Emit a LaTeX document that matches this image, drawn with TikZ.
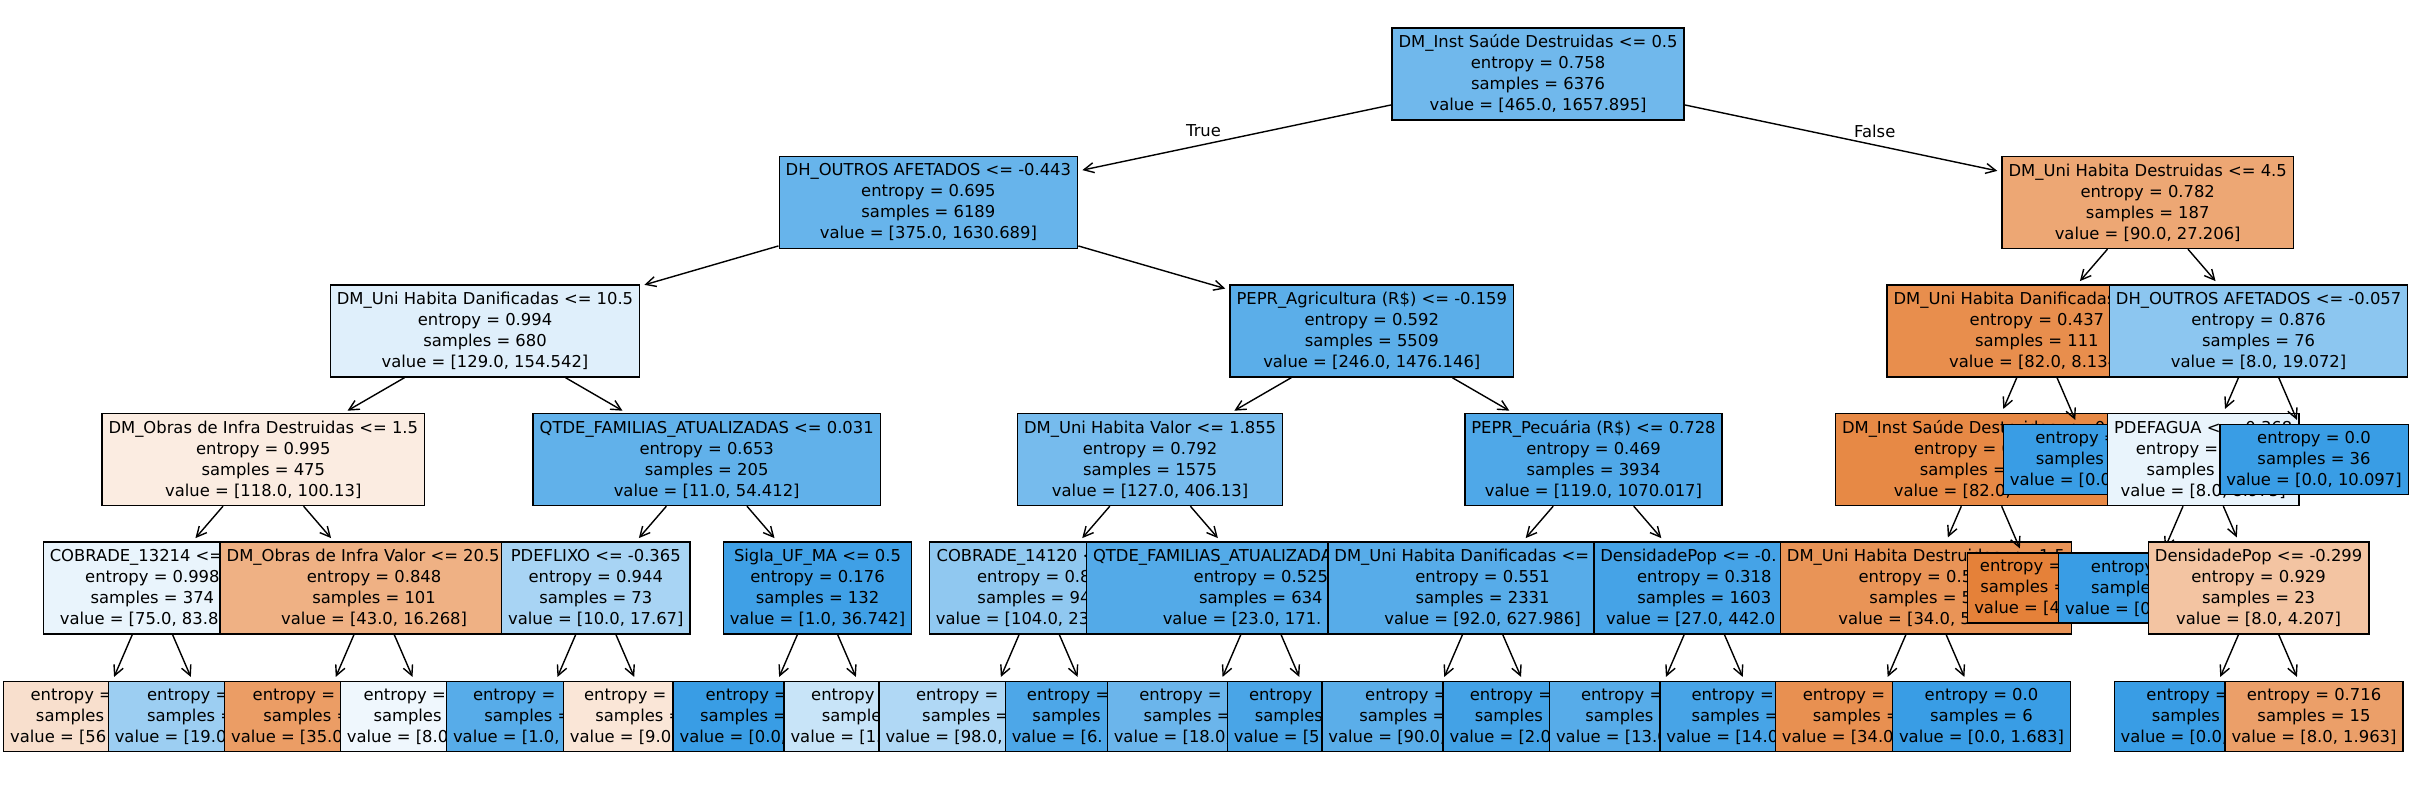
\documentclass[tikz,border=0pt]{standalone}
\usepackage{fontspec}
\setmainfont{DejaVu Sans}
\usepackage{tikz}
\usetikzlibrary{arrows.meta}
\usepackage{xcolor}
\definecolor{blu}{RGB}{57,157,229}
\definecolor{org}{RGB}{229,129,57}
\newcommand{\treefont}{\fontsize{4.66pt}{5.975pt}\selectfont}
\newcommand{\cutl}[2]{\makebox[#1em][l]{#2}}
\tikzset{
  splitbox/.style={rectangle, draw, line width=0.4pt, minimum height=0.92cm,
    inner xsep=1.85pt, inner ysep=0pt, align=center, font=\treefont},
  leafbox/.style={splitbox, minimum height=0.70cm},
  arr/.style={-{Straight Barb[length=1mm, width=1mm]}, line width=0.4pt, shorten >=1.2pt},
  branch/.style={font=\treefont, inner sep=2pt},
}

\begin{document}
\begin{tikzpicture}
  \useasboundingbox (0,0) rectangle (24.12,7.90);
  % root
  \node[splitbox, fill=blu!72] (root) at (15.381,7.16) {DM\_Inst Saúde Destruidas <= 0.5\\entropy = 0.758\\samples = 6376\\value = [465.0, 1657.895]};

  % True branch
  \node[splitbox, fill=blu!77] (outrosA) at (9.284,5.875) {DH\_OUTROS AFETADOS <= -0.443\\entropy = 0.695\\samples = 6189\\value = [375.0, 1630.689]};
  \draw[arr] (root) -- node[branch, above, pos=0.6] {True} (outrosA);
  \node[splitbox, fill=blu!16] (danifA) at (4.850,4.59) {DM\_Uni Habita Danificadas <= 10.5\\entropy = 0.994\\samples = 680\\value = [129.0, 154.542]};
  \draw[arr] (outrosA) -- (danifA);
  \node[splitbox, fill=org!15] (obrasD) at (2.633,3.305) {DM\_Obras de Infra Destruidas <= 1.5\\entropy = 0.995\\samples = 475\\value = [118.0, 100.13]};
  \draw[arr] (danifA) -- (obrasD);
  \node[splitbox, fill=blu!11] (cobradeA) at (1.524,2.02) {\cutl{12.53}{COBRADE\_13214 <=}\\entropy = 0.998\\samples = 374\\\cutl{11.3}{value = [75.0, 83.8}};
  \draw[arr] (obrasD) -- (cobradeA);
  \node[leafbox, fill=org!25] (l1) at (0.970,0.735) {\cutl{8.1}{entropy =}\\\cutl{7.45}{samples}\\\cutl{10.6}{value = [56.}};
  \draw[arr] (cobradeA) -- (l1);
  \node[leafbox, fill=blu!50] (l2) at (2.079,0.735) {\cutl{7.43}{entropy =}\\\cutl{7.43}{samples =}\\\cutl{11.37}{value = [19.0}};
  \draw[arr] (cobradeA) -- (l2);
  \node[splitbox, fill=org!62] (obrasV) at (3.741,2.02) {\cutl{18.0}{DM\_Obras de Infra Valor <= 20.5}\\entropy = 0.848\\samples = 101\\value = [43.0, 16.268]};
  \draw[arr] (obrasD) -- (obrasV);
  \node[leafbox, fill=org!78] (l3) at (3.187,0.735) {\cutl{8.06}{entropy =}\\\cutl{6.77}{samples =}\\\cutl{10.7}{value = [35.0}};
  \draw[arr] (obrasV) -- (l3);
  \node[leafbox, fill=blu!8] (l4) at (4.296,0.735) {\cutl{8.07}{entropy =}\\\cutl{6.85}{samples}\\\cutl{10.1}{value = [8.0}};
  \draw[arr] (obrasV) -- (l4);
  \node[splitbox, fill=blu!80] (qtdeA) at (7.067,3.305) {QTDE\_FAMILIAS\_ATUALIZADAS <= 0.031\\entropy = 0.653\\samples = 205\\value = [11.0, 54.412]};
  \draw[arr] (danifA) -- (qtdeA);
  \node[splitbox, fill=blu!44] (pdeflixo) at (5.958,2.02) {PDEFLIXO <= -0.365\\entropy = 0.944\\samples = 73\\value = [10.0, 17.67]};
  \draw[arr] (qtdeA) -- (pdeflixo);
  \node[leafbox, fill=blu!85] (l5) at (5.404,0.735) {\cutl{8.23}{entropy =}\\\cutl{6.84}{samples =}\\\cutl{10.67}{value = [1.0,}};
  \draw[arr] (pdeflixo) -- (l5);
  \node[leafbox, fill=org!20] (l6) at (6.513,0.735) {\cutl{8.2}{entropy =}\\\cutl{6.83}{samples =}\\\cutl{9.93}{value = [9.0}};
  \draw[arr] (pdeflixo) -- (l6);
  \node[splitbox, fill=blu!97] (sigla) at (8.175,2.02) {Sigla\_UF\_MA <= 0.5\\entropy = 0.176\\samples = 132\\value = [1.0, 36.742]};
  \draw[arr] (qtdeA) -- (sigla);
  \node[leafbox, fill=blu] (l7) at (7.621,0.735) {\cutl{6.9}{entropy =}\\\cutl{7.56}{samples =}\\\cutl{10.07}{value = [0.0,}};
  \draw[arr] (sigla) -- (l7);
  \node[leafbox, fill=blu!28] (l8) at (8.730,0.735) {\cutl{7.55}{entropy}\\\cutl{6.24}{sample}\\\cutl{10.07}{value = [1.}};
  \draw[arr] (sigla) -- (l8);
  \node[splitbox, fill=blu!83] (agric) at (13.718,4.59) {PEPR\_Agricultura (R\$) <= -0.159\\entropy = 0.592\\samples = 5509\\value = [246.0, 1476.146]};
  \draw[arr] (outrosA) -- (agric);
  \node[splitbox, fill=blu!69] (valor) at (11.501,3.305) {DM\_Uni Habita Valor <= 1.855\\entropy = 0.792\\samples = 1575\\value = [127.0, 406.13]};
  \draw[arr] (agric) -- (valor);
  \node[splitbox, fill=blu!56] (cobradeB) at (10.392,2.02) {\cutl{12.53}{COBRADE\_14120 <=}\\\cutl{7.59}{entropy = 0.8}\\\cutl{7.539}{samples = 94}\\\cutl{12.62}{value = [104.0, 23}};
  \draw[arr] (valor) -- (cobradeB);
  \node[leafbox, fill=blu!40] (l9) at (9.838,0.735) {\cutl{8.28}{entropy =}\\\cutl{7.52}{samples =}\\\cutl{12.0}{value = [98.0,}};
  \draw[arr] (cobradeB) -- (l9);
  \node[leafbox, fill=blu!90] (l10) at (10.947,0.735) {\cutl{8.27}{entropy =}\\\cutl{7.6}{samples}\\\cutl{10.13}{value = [6.}};
  \draw[arr] (cobradeB) -- (l10);
  \node[splitbox, fill=blu!87] (qtdeB) at (12.609,2.02) {\cutl{20.5}{QTDE\_FAMILIAS\_ATUALIZADAS}\\entropy = 0.525\\samples = 634\\\cutl{11.98}{value = [23.0, 171.}};
  \draw[arr] (valor) -- (qtdeB);
  \node[leafbox, fill=blu!75] (l11) at (12.055,0.735) {\cutl{8.08}{entropy =}\\\cutl{7.57}{samples =}\\\cutl{11.2}{value = [18.0,}};
  \draw[arr] (qtdeB) -- (l11);
  \node[leafbox, fill=blu!92] (l12) at (13.164,0.735) {\cutl{8.23}{entropy}\\\cutl{7.52}{samples}\\\cutl{10.07}{value = [5}};
  \draw[arr] (qtdeB) -- (l12);
  \node[splitbox, fill=blu!89] (pecuaria) at (15.935,3.305) {PEPR\_Pecuária (R\$) <= 0.728\\entropy = 0.469\\samples = 3934\\value = [119.0, 1070.017]};
  \draw[arr] (agric) -- (pecuaria);
  \node[splitbox, fill=blu!85] (danifC) at (14.826,2.02) {\cutl{18.09}{DM\_Uni Habita Danificadas <=}\\entropy = 0.551\\samples = 2331\\value = [92.0, 627.986]};
  \draw[arr] (pecuaria) -- (danifC);
  \node[leafbox, fill=blu!83] (l13) at (14.272,0.735) {\cutl{7.57}{entropy =}\\\cutl{8.28}{samples =}\\\cutl{12.06}{value = [90.0,}};
  \draw[arr] (danifC) -- (l13);
  \node[leafbox, fill=blu!95] (l14) at (15.381,0.735) {\cutl{8.34}{entropy =}\\\cutl{7.73}{samples}\\\cutl{10.8}{value = [2.0}};
  \draw[arr] (danifC) -- (l14);
  \node[splitbox, fill=blu!94] (densA) at (17.043,2.02) {\cutl{12.7}{DensidadePop <= -0.}\\entropy = 0.318\\samples = 1603\\\cutl{11.98}{value = [27.0, 442.0}};
  \draw[arr] (pecuaria) -- (densA);
  \node[leafbox, fill=blu!85] (l15) at (16.489,0.735) {\cutl{8.29}{entropy =}\\\cutl{7.77}{samples}\\\cutl{11.34}{value = [13.0}};
  \draw[arr] (densA) -- (l15);
  \node[leafbox, fill=blu!93] (l16) at (17.598,0.735) {\cutl{8.34}{entropy =}\\\cutl{8.34}{samples =}\\\cutl{11.4}{value = [14.0}};
  \draw[arr] (densA) -- (l16);

  % False branch
  \node[splitbox, fill=org!70] (destrA) at (21.477,5.875) {DM\_Uni Habita Destruidas <= 4.5\\entropy = 0.782\\samples = 187\\value = [90.0, 27.206]};
  \draw[arr] (root) -- node[branch, above, pos=0.6] {False} (destrA);
  \node[splitbox, fill=org!90] (danifB) at (20.369,4.59) {\cutl{17.5}{DM\_Uni Habita Danificadas}\\entropy = 0.437\\samples = 111\\value = [82.0, 8.134]};
  \draw[arr] (destrA) -- (danifB);
  \node[splitbox, fill=org!94] (saudeB) at (19.815,3.305) {DM\_Inst Saúde Destruidas <= 0.5\\\cutl{8.227}{entropy = 0}\\\cutl{7.539}{samples =}\\\cutl{10.71}{value = [82.0,}};
  \draw[arr] (danifB) -- (saudeB);
  \node[splitbox, fill=org!85] (destrB) at (19.260,2.02) {DM\_Uni Habita Destruidas <= 1.5\\\cutl{8.227}{entropy = 0.5}\\\cutl{6.903}{samples = 5}\\\cutl{10.71}{value = [34.0, 5}};
  \draw[arr] (saudeB) -- (destrB);
  \node[leafbox, fill=org!88] (l17) at (18.706,0.735) {\cutl{8.28}{entropy =}\\\cutl{7.05}{samples =}\\\cutl{10.83}{value = [34.0}};
  \draw[arr] (destrB) -- (l17);
  \node[leafbox, fill=blu] (l18) at (19.815,0.735) {entropy = 0.0\\samples = 6\\value = [0.0, 1.683]};
  \draw[arr] (destrB) -- (l18);
  \node[leafbox, fill=org] (leafOrg) at (20.369,2.02) {\cutl{6.955}{entropy =}\\\cutl{6.903}{samples =}\\\cutl{7.65}{value = [4}};
  \draw[arr] (saudeB) -- (leafOrg);
  \node[leafbox, fill=blu] (leafSaude) at (20.923,3.305) {\cutl{6.955}{entropy =}\\\cutl{6.903}{samples =}\\\cutl{10.07}{value = [0.0}};
  \draw[arr] (danifB) -- (leafSaude);
  \node[splitbox, fill=blu!58] (outrosB) at (22.586,4.59) {DH\_OUTROS AFETADOS <= -0.057\\entropy = 0.876\\samples = 76\\value = [8.0, 19.072]};
  \draw[arr] (destrA) -- (outrosB);
  \node[splitbox, fill=blu!11] (pdefagua) at (22.032,3.305) {PDEFAGUA <= -0.368\\\cutl{8.227}{entropy =}\\samples = 40\\value = [8.0, 8.975]};
  \draw[arr] (outrosB) -- (pdefagua);
  \node[leafbox, fill=blu] (leafAgua) at (21.477,2.02) {entropy = 0.0\\samples = 17\\value = [0.0, 4.768]};
  \draw[arr] (pdefagua) -- (leafAgua);
  \node[splitbox, fill=org!47] (densB) at (22.586,2.02) {DensidadePop <= -0.299\\entropy = 0.929\\samples = 23\\value = [8.0, 4.207]};
  \draw[arr] (pdefagua) -- (densB);
  \node[leafbox, fill=blu] (l19) at (22.032,0.735) {entropy = 0.0\\samples = 8\\value = [0.0, 2.244]};
  \draw[arr] (densB) -- (l19);
  \node[leafbox, fill=org!76] (l20) at (23.140,0.735) {entropy = 0.716\\samples = 15\\value = [8.0, 1.963]};
  \draw[arr] (densB) -- (l20);
  \node[leafbox, fill=blu] (leaf36) at (23.140,3.305) {entropy = 0.0\\samples = 36\\value = [0.0, 10.097]};
  \draw[arr] (outrosB) -- (leaf36);
\end{tikzpicture}
\end{document}
